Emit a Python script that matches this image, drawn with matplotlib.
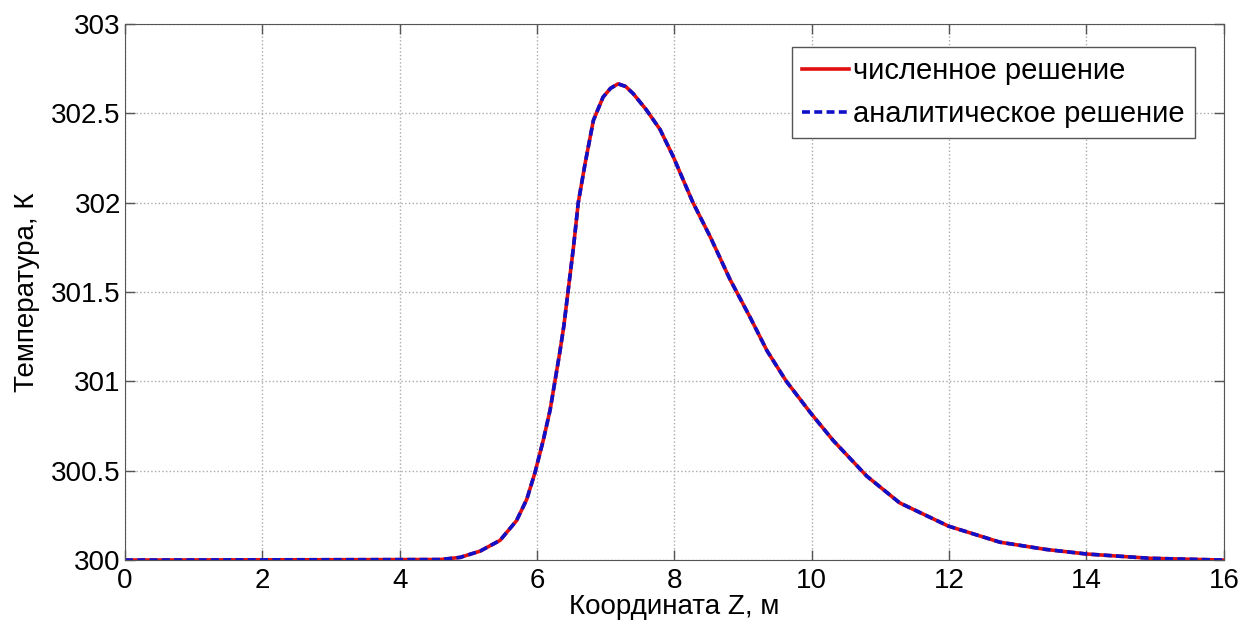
import matplotlib
matplotlib.use('Agg')
import matplotlib.pyplot as plt

# координата, м
z = [0, 4.59, 4.88, 5.17, 5.46, 5.70, 5.85, 5.97, 6.09, 6.19, 6.26, 6.33, 6.39, 6.45,
     6.53, 6.60, 6.70, 6.82, 6.96, 7.07, 7.18, 7.29, 7.40, 7.59, 7.79, 7.98, 8.27,
     8.52, 8.81, 9.10, 9.35, 9.63, 9.83, 9.99, 10.31, 10.80, 11.28, 11.99, 12.74,
     13.4, 14.0, 14.92, 16.0]
# температура, K
T_num = [300, 300.003, 300.015, 300.05, 300.11, 300.22, 300.34, 300.49, 300.67, 300.84,
         301.0, 301.16, 301.31, 301.50, 301.75, 302.0, 302.22, 302.46, 302.59, 302.64,
         302.665, 302.65, 302.61, 302.52, 302.41, 302.26, 302.0, 301.81, 301.57, 301.36,
         301.17, 301.0, 300.9, 300.82, 300.67, 300.47, 300.32, 300.19, 300.10, 300.06,
         300.034, 300.01, 300.0]
T_an = list(T_num)

xticks = [0, 2, 4, 6, 8, 10, 12, 14, 16]
yticks = [300, 300.5, 301, 301.5, 302, 302.5, 303]
ytick_labels = ['300', '300.5', '301', '301.5', '302', '302.5', '303']

plt.rcParams['font.family'] = ['Liberation Sans', 'DejaVu Sans']

fig = plt.figure(figsize=(12.45, 6.3), dpi=100)
ax = fig.add_axes([0.1004, 0.111, 0.8826, 0.851])

ax.plot(z, T_num, color='#e01010', lw=2.6, label='численное решение')
ax.plot(z, T_an, color='#1010c8', lw=2.6, ls=(0, (2.2, 1.2)), label='аналитическое решение')

ax.set_xlim(0, 16)
ax.set_ylim(300, 303)
ax.set_xticks(xticks)
ax.set_yticks(yticks)
ax.set_yticklabels(ytick_labels)
ax.tick_params(direction='in', length=7, width=1, colors='#555555', labelcolor='black',
               labelsize=20, top=True, right=True, pad=3)
ax.tick_params(axis='x', pad=6)
for s in ax.spines.values():
    s.set_color('#555555')
ax.grid(True, ls=':', color='#aaaaaa', lw=1)

ax.set_xlabel('Координата Z, м', fontsize=20, labelpad=0)
ax.set_ylabel('Температура, К', fontsize=20, labelpad=8)

leg = ax.legend(loc='upper right', bbox_to_anchor=(0.9736, 0.957), fontsize=21,
                handlelength=1.6, handletextpad=0.15, borderpad=0.35, labelspacing=0.5,
                fancybox=False, framealpha=1, edgecolor='#555555', borderaxespad=0)
leg.get_frame().set_linewidth(1)

fig.savefig('out.png', dpi=100)
